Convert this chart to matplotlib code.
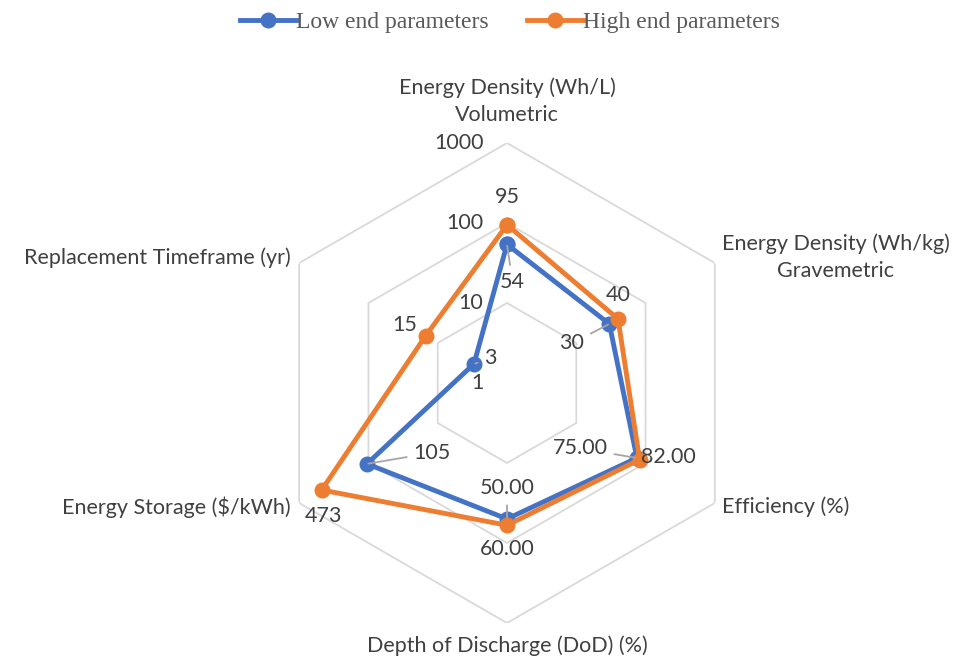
import numpy as np
import matplotlib.pyplot as plt

# categories clockwise from the top
categories = ["Energy Density (Wh/L)\nVolumetric",
              "Energy Density (Wh/kg)\nGravemetric",
              "Efficiency (%)",
              "Depth of Discharge (DoD) (%)",
              "Energy Storage ($/kWh)",
              "Replacement Timeframe (yr)"]
low_vals = [54, 30, 75, 50, 105, 3]
high_vals = [95, 40, 82, 60, 473, 15]
low_text = ["54", "30", "75.00", "50.00", "105", "3"]
high_text = ["95", "40", "82.00", "60.00", "473", "15"]
ring_vals = [1, 10, 100, 1000]

BLUE = "#4472C4"
ORANGE = "#ED7D31"
GRID = "#D9D9D9"
TXT = "#404040"
LEAD = "#A6A6A6"
FONT = "Lato"
FS = 15.5

n = len(categories)
theta = np.arange(n) * 2 * np.pi / n
theta_c = np.append(theta, theta[0])

W, H = 955, 661
fig = plt.figure(figsize=(W / 100, H / 100), dpi=100)
cx, cy, R = 507, 383, 240
ax = fig.add_axes([(cx - R) / W, (H - cy - R) / H, 2 * R / W, 2 * R / H],
                  projection="polar")
ax.set_theta_offset(np.pi / 2)
ax.set_theta_direction(-1)
ax.set_rscale("log")
ax.set_rlim(1, 1000)
ax.grid(False)
ax.spines["polar"].set_visible(False)
ax.set_xticks([])
ax.set_yticks([])
ax.patch.set_alpha(0)

# hexagon gridlines
for v in ring_vals[1:]:
    ax.plot(theta_c, [v] * (n + 1), color=GRID, lw=1.3, zorder=1)

# axis value labels
for v in ring_vals:
    ax.annotate(str(v), (0, v), xytext=(-17, 0), textcoords="offset points",
                ha="right", va="center", fontsize=FS, color=TXT,
                family=FONT, annotation_clip=False)

ax.plot(theta_c, low_vals + low_vals[:1], color=BLUE, lw=3.5, marker="o",
        ms=10.5, zorder=3, label="Low end parameters")
ax.plot(theta_c, high_vals + high_vals[:1], color=ORANGE, lw=3.5, marker="o",
        ms=10.5, zorder=4, label="High end parameters")

# data labels (offsets in points)
low_off = [(4, -27), (-27, -14), (-41, 7), (0, 22), (47, 8), (12, 4)]
high_off = [(0, 20), (0, 17), (21, 2), (0, -17), (1, -19), (-15, 8)]
for i in range(n):
    ax.annotate(low_text[i], (theta[i], low_vals[i]), xytext=low_off[i],
                textcoords="offset points", ha="center", va="center",
                fontsize=FS, color=TXT, family=FONT, zorder=5,
                arrowprops=dict(arrowstyle="-", color=LEAD, lw=1.3,
                                shrinkA=3, shrinkB=1))
    ax.annotate(high_text[i], (theta[i], high_vals[i]), xytext=high_off[i],
                textcoords="offset points", ha="center", va="center",
                fontsize=FS, color=TXT, family=FONT, zorder=5)

# category labels
cat_off = [(0, 13), (5, 4), (5, -3), (0, -16), (-6, -3), (-6, 4)]
cat_ha = ["center", "left", "left", "center", "right", "right"]
cat_va = ["bottom", "center", "center", "center", "center", "center"]
for i in range(n):
    ax.annotate(categories[i], (theta[i], ring_vals[-1]), xytext=cat_off[i],
                textcoords="offset points", ha=cat_ha[i], va=cat_va[i],
                multialignment="center", fontsize=FS, color=TXT,
                family=FONT, annotation_clip=False, linespacing=1.45)

fig.legend(loc="upper center", bbox_to_anchor=(0.534, 1.015), ncol=2,
           frameon=False, handlelength=2.4, columnspacing=1.6,
           handletextpad=0.0,
           prop={"family": "Liberation Serif", "size": 17},
           labelcolor="#595959")

fig.savefig("out.png", dpi=100)
